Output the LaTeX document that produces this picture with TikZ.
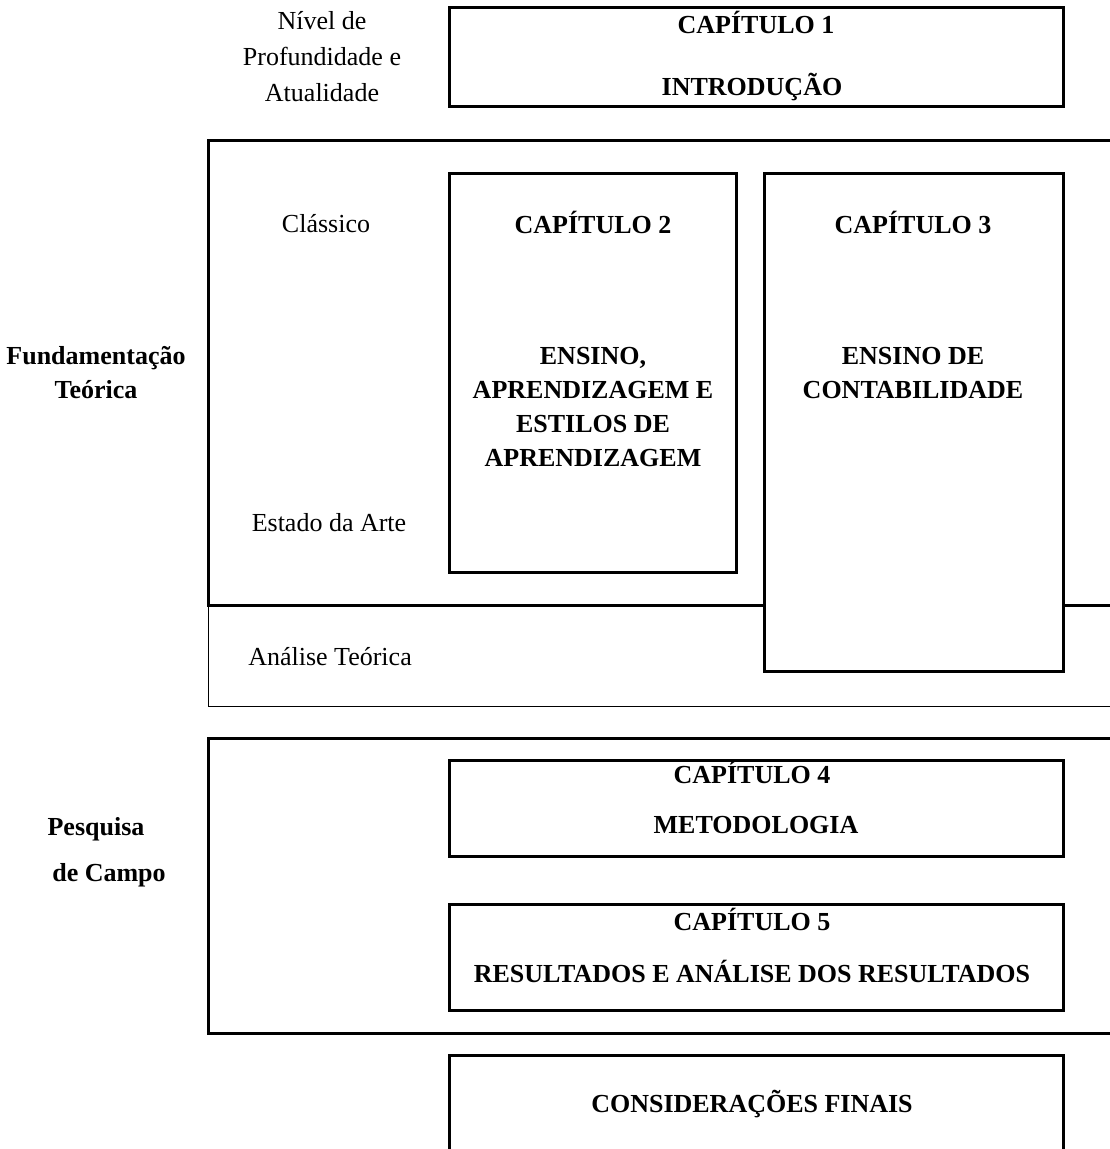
\documentclass[tikz,border=0pt]{standalone}
\usepackage{fontspec}
\setmainfont{Liberation Serif}
\begin{document}
\begin{tikzpicture}[x=1pt,y=-1pt,
  thickline/.style={line width=3pt,line cap=rect},
  thinline/.style={line width=1pt},
  chbox/.style={line width=3pt,fill=white},
  lbl/.style={inner sep=0pt,align=center,font=\fontsize{26}{34}\selectfont},
  blbl/.style={lbl,font=\fontsize{26}{34}\selectfont\bfseries}]
\useasboundingbox (0,0) rectangle (1109,1149);
% frames
\draw[thickline] (1112,140) -- (208,140) -- (208,605) -- (1112,605);
\draw[thinline] (208,605) -- (208,706) -- (1112,706);
\draw[thickline] (1112,738) -- (208,738) -- (208,1033) -- (1112,1033);
% chapter boxes
\draw[chbox] (449,7) rectangle (1063,106);
\draw[chbox] (449,173) rectangle (736,572);
\draw[chbox] (764,173) rectangle (1063,671);
\draw[chbox] (449,760) rectangle (1063,856);
\draw[chbox] (449,904) rectangle (1063,1010);
\draw[line width=3pt] (449,1152) -- (449,1055) -- (1063,1055) -- (1063,1152);
% side labels
\node[lbl,font=\fontsize{26}{36}\selectfont] (nivel) at (322,57) {Nível de\\Profundidade e\\Atualidade};
\node[lbl] (classico) at (326,224) {Clássico};
\node[lbl] (estado) at (329,523) {Estado da Arte};
\node[lbl] (analise) at (330,657) {Análise Teórica};
\node[blbl] (fund) at (96,373) {Fundamentação\\Teórica};
\node[blbl] (pesq) at (96,829) {Pesquisa};
\node[blbl] (campo) at (109,875) {de Campo};
% chapter texts
\node[blbl] (c1a) at (756,22) {CAPÍTULO 1};
\node[blbl] (c1b) at (752,87) {INTRODUÇÃO};
\node[blbl] (c2a) at (593,222) {CAPÍTULO 2};
\node[blbl] (c2b) at (593,407) {ENSINO,\\APRENDIZAGEM E\\ESTILOS DE\\APRENDIZAGEM};
\node[blbl] (c3a) at (913,222) {CAPÍTULO 3};
\node[blbl] (c3b) at (913,373) {ENSINO DE\\CONTABILIDADE};
\node[blbl] (c4a) at (752,772) {CAPÍTULO 4};
\node[blbl] (c4b) at (756,825) {METODOLOGIA};
\node[blbl] (c5a) at (752,919) {CAPÍTULO 5};
\node[blbl] (c5b) at (752,971) {RESULTADOS E ANÁLISE DOS RESULTADOS};
\node[blbl] (cf) at (752,1104) {CONSIDERAÇÕES FINAIS};
\end{tikzpicture}
\end{document}
